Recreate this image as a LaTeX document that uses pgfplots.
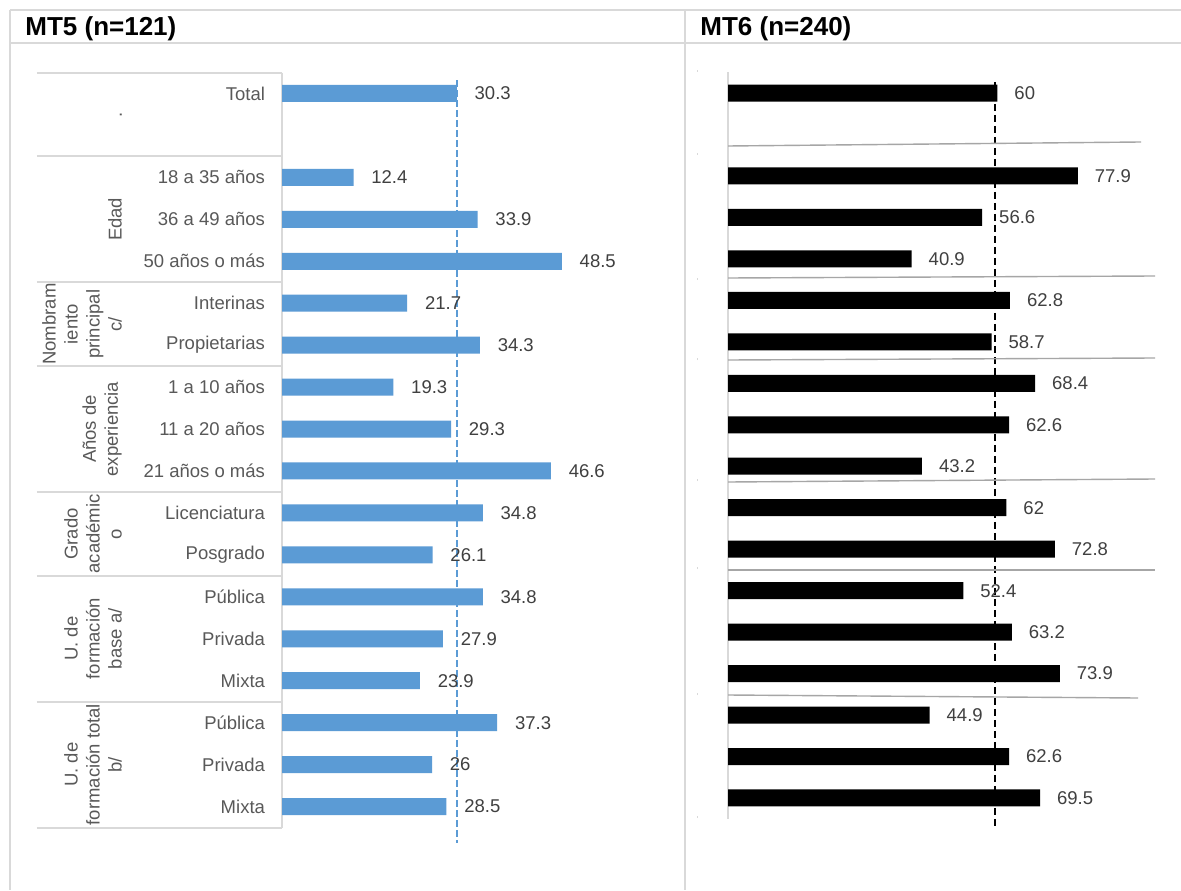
\documentclass[border=0pt]{standalone}
\usepackage{fontspec}
\setmainfont{Liberation Sans}
\usepackage{pgfplots}
\pgfplotsset{compat=1.18}
\usepackage{pgfplotstable}
\definecolor{barblue}{HTML}{5B9BD5}
\definecolor{txtgray}{HTML}{595959}
\definecolor{valgray}{HTML}{404040}
\definecolor{linegray}{HTML}{D9D9D9}
\definecolor{sepgray}{HTML}{A6A6A6}

\pgfplotstableread{
idx mt5 mt6
0 30.3 60
2 12.4 77.9
3 33.9 56.6
4 48.5 40.9
5 21.7 62.8
6 34.3 58.7
7 19.3 68.4
8 29.3 62.6
9 46.6 43.2
10 34.8 62
11 26.1 72.8
12 34.8 52.4
13 27.9 63.2
14 23.9 73.9
15 37.3 44.9
16 26 62.6
17 28.5 69.5
}\data

\newcommand\lblfont{\fontsize{9.25}{11}\selectfont}

\begin{document}
\begin{tikzpicture}
\path[use as bounding box] (0pt,0pt) rectangle (590.5pt,445pt);
\fill[white] (0pt,0pt) rectangle (590.5pt,445pt);
% frame
\draw[linegray, line width=1pt] (5pt,440pt) -- (590.5pt,440pt);
\draw[linegray, line width=1pt] (5pt,423.5pt) -- (590.5pt,423.5pt);
\draw[linegray, line width=1pt] (5pt,440pt) -- (5pt,0pt);
\draw[linegray, line width=1pt] (342.5pt,440pt) -- (342.5pt,0pt);
% titles
\node[anchor=base west, inner sep=0pt, font=\fontsize{13}{15}\selectfont\bfseries] at (12.5pt,427pt) {MT5 (n=121)};
\node[anchor=base west, inner sep=0pt, font=\fontsize{13}{15}\selectfont\bfseries] at (350pt,427pt) {MT6 (n=240)};

% ---------- left axis ----------
\begin{axis}[
  at={(141pt,31.25pt)}, anchor=south west,
  scale only axis, width=173.1pt, height=377.5pt,
  xmin=0, xmax=60, ymin=-0.5, ymax=17.5,
  y dir=reverse,
  axis line style={draw=none},
  xtick=\empty,
  ytick={0,2,3,4,5,6,7,8,9,10,11,12,13,14,15,16,17},
  yticklabels={Total,18 a 35 años,36 a 49 años,50 años o más,Interinas,Propietarias,1 a 10 años,11 a 20 años,21 años o más,Licenciatura,Posgrado,Pública,Privada,Mixta,Pública,Privada,Mixta},
  major tick length=0pt,
  yticklabel style={font=\lblfont, text=txtgray, xshift=-5.0pt},
  clip=false,
  /pgf/number format/assume math mode=true,
]
% table lines
\foreach \yy in {-0.5,1.5,4.5,6.5,9.5,11.5,14.5,17.5}{
  \edef\tmp{\noexpand\draw[linegray, line width=1pt] (axis cs:-42.5,\yy) -- (axis cs:0,\yy);}\tmp
}
\draw[linegray, line width=1pt] (axis cs:0,-0.5) -- (axis cs:0,17.5);
% group labels
\begin{scope}[every node/.style={rotate=90, anchor=south, align=center, font=\lblfont, text=txtgray, inner sep=0pt}]
\node at (axis cs:-27.7,0.5) {.};
\node at (axis cs:-27.7,3) {Edad};
\node at (axis cs:-27.7,5.5) {Nombram\\iento\\principal\\c/};
\node at (axis cs:-27.7,8) {Años de\\experiencia};
\node at (axis cs:-27.7,10.5) {Grado\\académic\\o};
\node at (axis cs:-27.7,13) {U. de\\formación\\base a/};
\node at (axis cs:-27.7,16) {U. de\\formación total\\b/};
\end{scope}
\addplot[xbar, bar width=8.5pt, fill=barblue, draw=none, point meta=x,
  nodes near coords, nodes near coords align={horizontal},
  every node near coord/.append style={font=\lblfont, text=valgray, anchor=west, xshift=5.4pt}]
  table[x=mt5, y=idx] {\data};
\addplot[barblue, line width=0.7pt, dash pattern=on 3.3pt off 1.7pt] coordinates {(30.3,-0.31) (30.3,17.86)};
\end{axis}

% ---------- right axis ----------
\begin{axis}[
  at={(364pt,35.65pt)}, anchor=south west,
  scale only axis, width=224.5pt, height=373.2pt,
  xmin=0, xmax=100, ymin=-0.5, ymax=17.5,
  y dir=reverse,
  axis line style={draw=none},
  xtick=\empty, ytick=\empty,
  clip=false,
  /pgf/number format/assume math mode=true,
]
\draw[linegray, line width=1pt] (axis cs:0,-0.5) -- (axis cs:0,17.5);
\addplot[xbar, bar width=8.5pt, fill=black, draw=none, point meta=x,
  nodes near coords, nodes near coords align={horizontal},
  every node near coord/.append style={font=\lblfont, text=valgray, anchor=west, xshift=5pt}]
  table[x=mt6, y=idx] {\data};
\addplot[black, line width=0.9pt, dash pattern=on 3.5pt off 2pt] coordinates {(59.5,-0.27) (59.5,17.72)};
\end{axis}

% right panel separators
\draw[sepgray, line width=0.7pt] (364pt,372pt) -- (570.5pt,374pt);
\draw[sepgray, line width=0.7pt] (364pt,306pt) -- (577.5pt,307pt);
\draw[sepgray, line width=0.7pt] (364pt,265pt) -- (577.5pt,266pt);
\draw[sepgray, line width=0.7pt] (364pt,204pt) -- (577.5pt,205.5pt);
\draw[sepgray, line width=0.7pt] (364pt,160pt) -- (577.5pt,160pt);
\draw[sepgray, line width=0.7pt] (364pt,97.5pt) -- (569pt,96pt);
% tiny tick marks
\foreach \yy in {409,367.5,305,265,204.5,160.5,97.5,36}{
  \draw[linegray, line width=0.5pt] (348.5pt,\yy pt) -- (348.5pt,\yy pt+1.2pt);
}
\end{tikzpicture}
\end{document}
